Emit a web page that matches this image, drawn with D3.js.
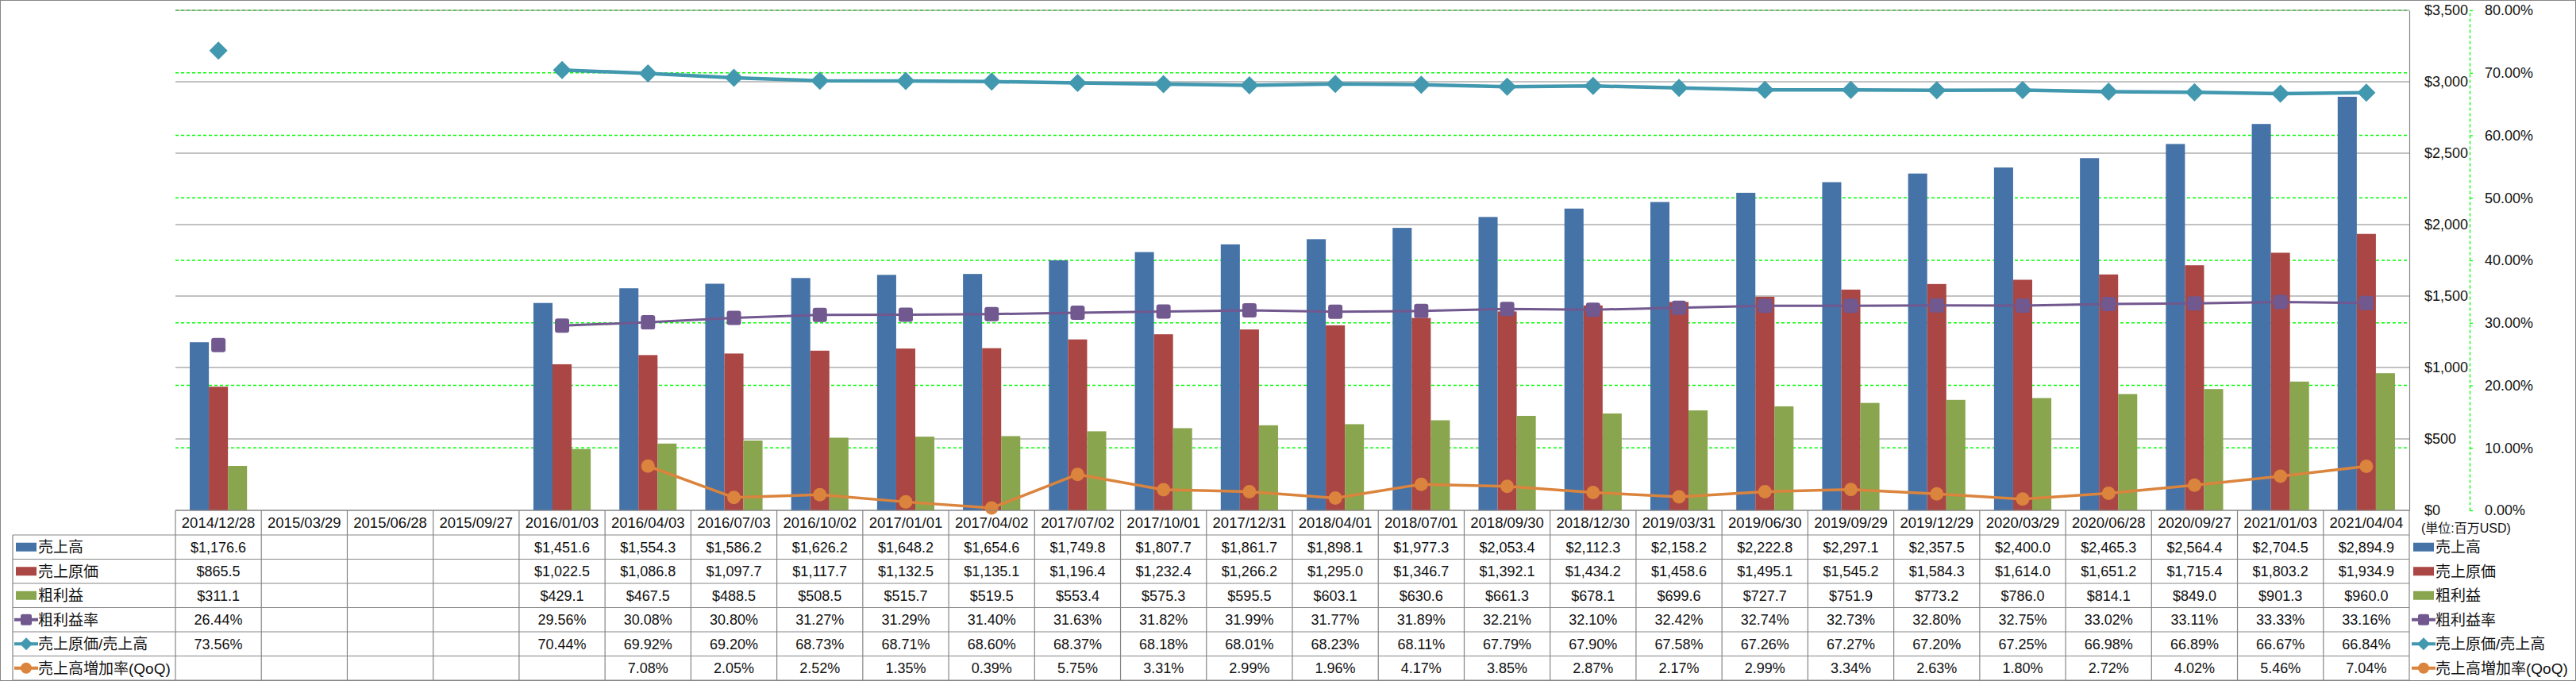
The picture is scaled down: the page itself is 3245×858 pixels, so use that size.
<!DOCTYPE html>
<html>
<head>
<meta charset="utf-8">
<script src="https://cdn.jsdelivr.net/npm/d3@7"></script>
<style>
  body { margin: 0; background: #fff; }
  svg { display: block; font-family: "Liberation Sans", "Noto Sans CJK JP", sans-serif; }
</style>
</head>
<body>
<div id="chart"></div>
<script>
const dates = [
  "2014/12/28", "2015/03/29", "2015/06/28", "2015/09/27", "2016/01/03", "2016/04/03",
  "2016/07/03", "2016/10/02", "2017/01/01", "2017/04/02", "2017/07/02", "2017/10/01",
  "2017/12/31", "2018/04/01", "2018/07/01", "2018/09/30", "2018/12/30", "2019/03/31",
  "2019/06/30", "2019/09/29", "2019/12/29", "2020/03/29", "2020/06/28", "2020/09/27",
  "2021/01/03", "2021/04/04",
];
// millions USD
const sales = [1176.6, null, null, null, 1451.6, 1554.3, 1586.2, 1626.2, 1648.2, 1654.6, 1749.8, 1807.7,
  1861.7, 1898.1, 1977.3, 2053.4, 2112.3, 2158.2, 2222.8, 2297.1, 2357.5, 2400.0, 2465.3, 2564.4, 2704.5, 2894.9];
const cost = [865.5, null, null, null, 1022.5, 1086.8, 1097.7, 1117.7, 1132.5, 1135.1, 1196.4, 1232.4,
  1266.2, 1295.0, 1346.7, 1392.1, 1434.2, 1458.6, 1495.1, 1545.2, 1584.3, 1614.0, 1651.2, 1715.4, 1803.2, 1934.9];
const gross = [311.1, null, null, null, 429.1, 467.5, 488.5, 508.5, 515.7, 519.5, 553.4, 575.3,
  595.5, 603.1, 630.6, 661.3, 678.1, 699.6, 727.7, 751.9, 773.2, 786.0, 814.1, 849.0, 901.3, 960.0];
// percent
const grossMargin = [26.44, null, null, null, 29.56, 30.08, 30.80, 31.27, 31.29, 31.40, 31.63, 31.82,
  31.99, 31.77, 31.89, 32.21, 32.10, 32.42, 32.74, 32.73, 32.80, 32.75, 33.02, 33.11, 33.33, 33.16];
const costRatio = [73.56, null, null, null, 70.44, 69.92, 69.20, 68.73, 68.71, 68.60, 68.37, 68.18,
  68.01, 68.23, 68.11, 67.79, 67.90, 67.58, 67.26, 67.27, 67.20, 67.25, 66.98, 66.89, 66.67, 66.84];
const salesQoQ = [null, null, null, null, null, 7.08, 2.05, 2.52, 1.35, 0.39, 5.75, 3.31,
  2.99, 1.96, 4.17, 3.85, 2.87, 2.17, 2.99, 3.34, 2.63, 1.80, 2.72, 4.02, 5.46, 7.04];

const amountTicks = [0, 500, 1000, 1500, 2000, 2500, 3000, 3500];
const pctTicks = [0, 10, 20, 30, 40, 50, 60, 70, 80];
const unitLabel = "(単位:百万USD)";

const fmtAmt = (v) => "$" + d3.format(",.1f")(v);
const fmtPct = (v) => v.toFixed(2) + "%";

const series = [
  { name: "売上高", values: sales, color: "#4572a7", kind: "bar", fmt: fmtAmt },
  { name: "売上原価", values: cost, color: "#aa4643", kind: "bar", fmt: fmtAmt },
  { name: "粗利益", values: gross, color: "#89a54e", kind: "bar", fmt: fmtAmt },
  { name: "粗利益率", values: grossMargin, color: "#71588f", kind: "square", width: 3, fmt: fmtPct },
  { name: "売上原価/売上高", values: costRatio, color: "#4198af", kind: "diamond", width: 4.5, fmt: fmtPct },
  { name: "売上高増加率(QoQ)", values: salesQoQ, color: "#db843d", kind: "circle", width: 3.5, fmt: fmtPct },
];

const W = 3245, H = 858;
const plotL = 221, plotR = 3035, plotT = 13, plotB = 643;
const headH = 31, rowH = 30.5, labelL = 16;
const gridGray = "#868686";

const svg = d3.select("#chart").append("svg").attr("width", W).attr("height", H);

svg.append("rect")
  .attr("x", 0.5).attr("y", 0.5).attr("width", W - 1).attr("height", H - 1)
  .attr("fill", "#fff").attr("stroke", gridGray);

const x = d3.scaleBand().domain(dates).range([plotL, plotR]);
const barW = x.bandwidth() / 4.5;
const xSub = d3.scaleBand()
  .domain(series.filter((s) => s.kind === "bar").map((s) => s.name))
  .range([0.75 * barW, x.bandwidth() - 0.75 * barW]);
const yAmt = d3.scaleLinear().domain([0, 3500]).range([plotB, plotT]);
const yPct = d3.scaleLinear().domain([0, 80]).range([plotB, plotT]);
const cx = (d) => x(d) + x.bandwidth() / 2;

// percent gridlines (green dashed)
svg.append("g")
  .selectAll("line")
  .data(pctTicks.filter((t) => t > 0))
  .join("line")
  .attr("x1", plotL).attr("x2", plotR)
  .attr("y1", (d) => yPct(d)).attr("y2", (d) => yPct(d))
  .attr("stroke", "#00ff00").attr("stroke-width", 1.3).attr("stroke-dasharray", "4,3");

// amount gridlines (gray)
svg.append("g")
  .selectAll("line")
  .data(amountTicks)
  .join("line")
  .attr("x1", plotL).attr("x2", plotR)
  .attr("y1", (d) => yAmt(d)).attr("y2", (d) => yAmt(d))
  .attr("stroke", gridGray).attr("stroke-width", 1.2);

// amount axis
const axAmt = svg.append("g")
  .attr("transform", `translate(${plotR},0)`)
  .call(d3.axisRight(yAmt).tickValues(amountTicks).tickSize(0).tickSizeOuter(0).tickPadding(19)
    .tickFormat((d) => "$" + d3.format(",")(d)));
axAmt.select(".domain").attr("stroke", gridGray).attr("stroke-width", 1.2);
axAmt.selectAll("text").attr("font-size", 18).attr("font-family", null).attr("fill", "#111");

// percent axis
const axPct = svg.append("g")
  .attr("transform", "translate(3111,0)")
  .call(d3.axisRight(yPct).tickValues(pctTicks).tickSize(4).tickSizeOuter(0).tickPadding(15)
    .tickFormat(fmtPct));
axPct.select(".domain").attr("stroke", "#00ff00").attr("stroke-dasharray", "4,3").attr("stroke-width", 1.3);
axPct.selectAll(".tick line").attr("stroke", "#00ff00").attr("stroke-width", 1.3);
axPct.selectAll("text").attr("font-size", 18).attr("font-family", null).attr("fill", "#111");

// bars
const barG = svg.append("g");
series.filter((s) => s.kind === "bar").forEach((s) => {
  barG.append("g")
    .selectAll("rect")
    .data(dates.map((d, i) => ({ d, v: s.values[i] })).filter((p) => p.v != null))
    .join("rect")
    .attr("x", (p) => x(p.d) + xSub(s.name))
    .attr("width", xSub.bandwidth())
    .attr("y", (p) => yAmt(p.v))
    .attr("height", (p) => yAmt(0) - yAmt(p.v))
    .attr("fill", s.color);
});

function drawMarker(g, kind, color, px, py, size) {
  if (kind === "square") {
    g.append("rect")
      .attr("x", px - size / 2).attr("y", py - size / 2)
      .attr("width", size).attr("height", size).attr("rx", size * 0.18)
      .attr("fill", color);
  } else if (kind === "diamond") {
    const h = size / 2;
    g.append("path")
      .attr("d", `M${px},${py - h}L${px + h},${py}L${px},${py + h}L${px - h},${py}Z`)
      .attr("fill", color);
  } else if (kind === "circle") {
    g.append("circle").attr("cx", px).attr("cy", py).attr("r", size / 2).attr("fill", color);
  }
}

const markerSize = { square: 18, diamond: 23, circle: 17 };

// lines
series.filter((s) => s.kind !== "bar").forEach((s) => {
  const pts = dates.map((d, i) => ({ d, v: s.values[i] }));
  const line = d3.line()
    .defined((p) => p.v != null)
    .x((p) => cx(p.d))
    .y((p) => yPct(p.v));
  const g = svg.append("g");
  g.append("path")
    .attr("d", line(pts))
    .attr("fill", "none")
    .attr("stroke", s.color)
    .attr("stroke-width", s.width)
    .attr("stroke-linejoin", "round");
  pts.filter((p) => p.v != null).forEach((p) => {
    drawMarker(g, s.kind, s.color, cx(p.d), yPct(p.v), markerSize[s.kind]);
  });
});

// data table
const tableG = svg.append("g");
const tableB = plotB + headH + rowH * series.length;
const rowTop = (i) => plotB + headH + rowH * i;

tableG.append("line")
  .attr("x1", plotL).attr("x2", plotR).attr("y1", plotB).attr("y2", plotB)
  .attr("stroke", gridGray).attr("stroke-width", 1.2);
tableG.selectAll(".hline")
  .data(d3.range(series.length + 1))
  .join("line")
  .attr("x1", labelL).attr("x2", plotR)
  .attr("y1", (i) => rowTop(i)).attr("y2", (i) => rowTop(i))
  .attr("stroke", gridGray).attr("stroke-width", 1.2);
tableG.selectAll(".vline")
  .data(dates.concat(["end"]))
  .join("line")
  .attr("x1", (d) => (d === "end" ? plotR : x(d)))
  .attr("x2", (d) => (d === "end" ? plotR : x(d)))
  .attr("y1", plotB).attr("y2", tableB)
  .attr("stroke", gridGray).attr("stroke-width", 1.2);
tableG.append("line")
  .attr("x1", labelL).attr("x2", labelL).attr("y1", rowTop(0)).attr("y2", tableB)
  .attr("stroke", gridGray).attr("stroke-width", 1.2);

// header
tableG.selectAll(".head")
  .data(dates)
  .join("text")
  .attr("x", (d) => cx(d))
  .attr("y", plotB + headH / 2)
  .attr("dy", "0.36em")
  .attr("text-anchor", "middle")
  .attr("font-size", 18.5)
  .attr("fill", "#111")
  .text((d) => d);

// cells
series.forEach((s, r) => {
  tableG.append("g")
    .selectAll("text")
    .data(dates.map((d, i) => ({ d, v: s.values[i] })).filter((p) => p.v != null))
    .join("text")
    .attr("x", (p) => cx(p.d))
    .attr("y", rowTop(r) + rowH / 2)
    .attr("dy", "0.36em")
    .attr("text-anchor", "middle")
    .attr("font-size", 18)
    .attr("fill", "#111")
    .text((p) => s.fmt(p.v));
});

function legendKey(g, s, x0, yc) {
  if (s.kind === "bar") {
    g.append("rect").attr("x", x0).attr("y", yc - 5.5).attr("width", 26).attr("height", 11).attr("fill", s.color);
  } else {
    g.append("line").attr("x1", x0 - 2).attr("x2", x0 + 28).attr("y1", yc).attr("y2", yc)
      .attr("stroke", s.color).attr("stroke-width", 4);
    drawMarker(g, s.kind, s.color, x0 + 13, yc, s.kind === "diamond" ? 16 : 14);
  }
}

// row labels (left) and legend (right)
series.forEach((s, r) => {
  const yc = rowTop(r) + rowH / 2;
  const gl = tableG.append("g");
  legendKey(gl, s, 20, yc);
  gl.append("text").attr("x", 48).attr("y", yc).attr("dy", "0.36em")
    .attr("font-size", 19).attr("fill", "#111").text(s.name);
  const gr = svg.append("g");
  legendKey(gr, s, 3040, yc);
  gr.append("text").attr("x", 3068).attr("y", yc).attr("dy", "0.36em")
    .attr("font-size", 19).attr("fill", "#111").text(s.name);
});

svg.append("text")
  .attr("x", 3050).attr("y", 665).attr("dy", "0.36em")
  .attr("font-size", 16).attr("fill", "#111")
  .text(unitLabel);
</script>
</body>
</html>
